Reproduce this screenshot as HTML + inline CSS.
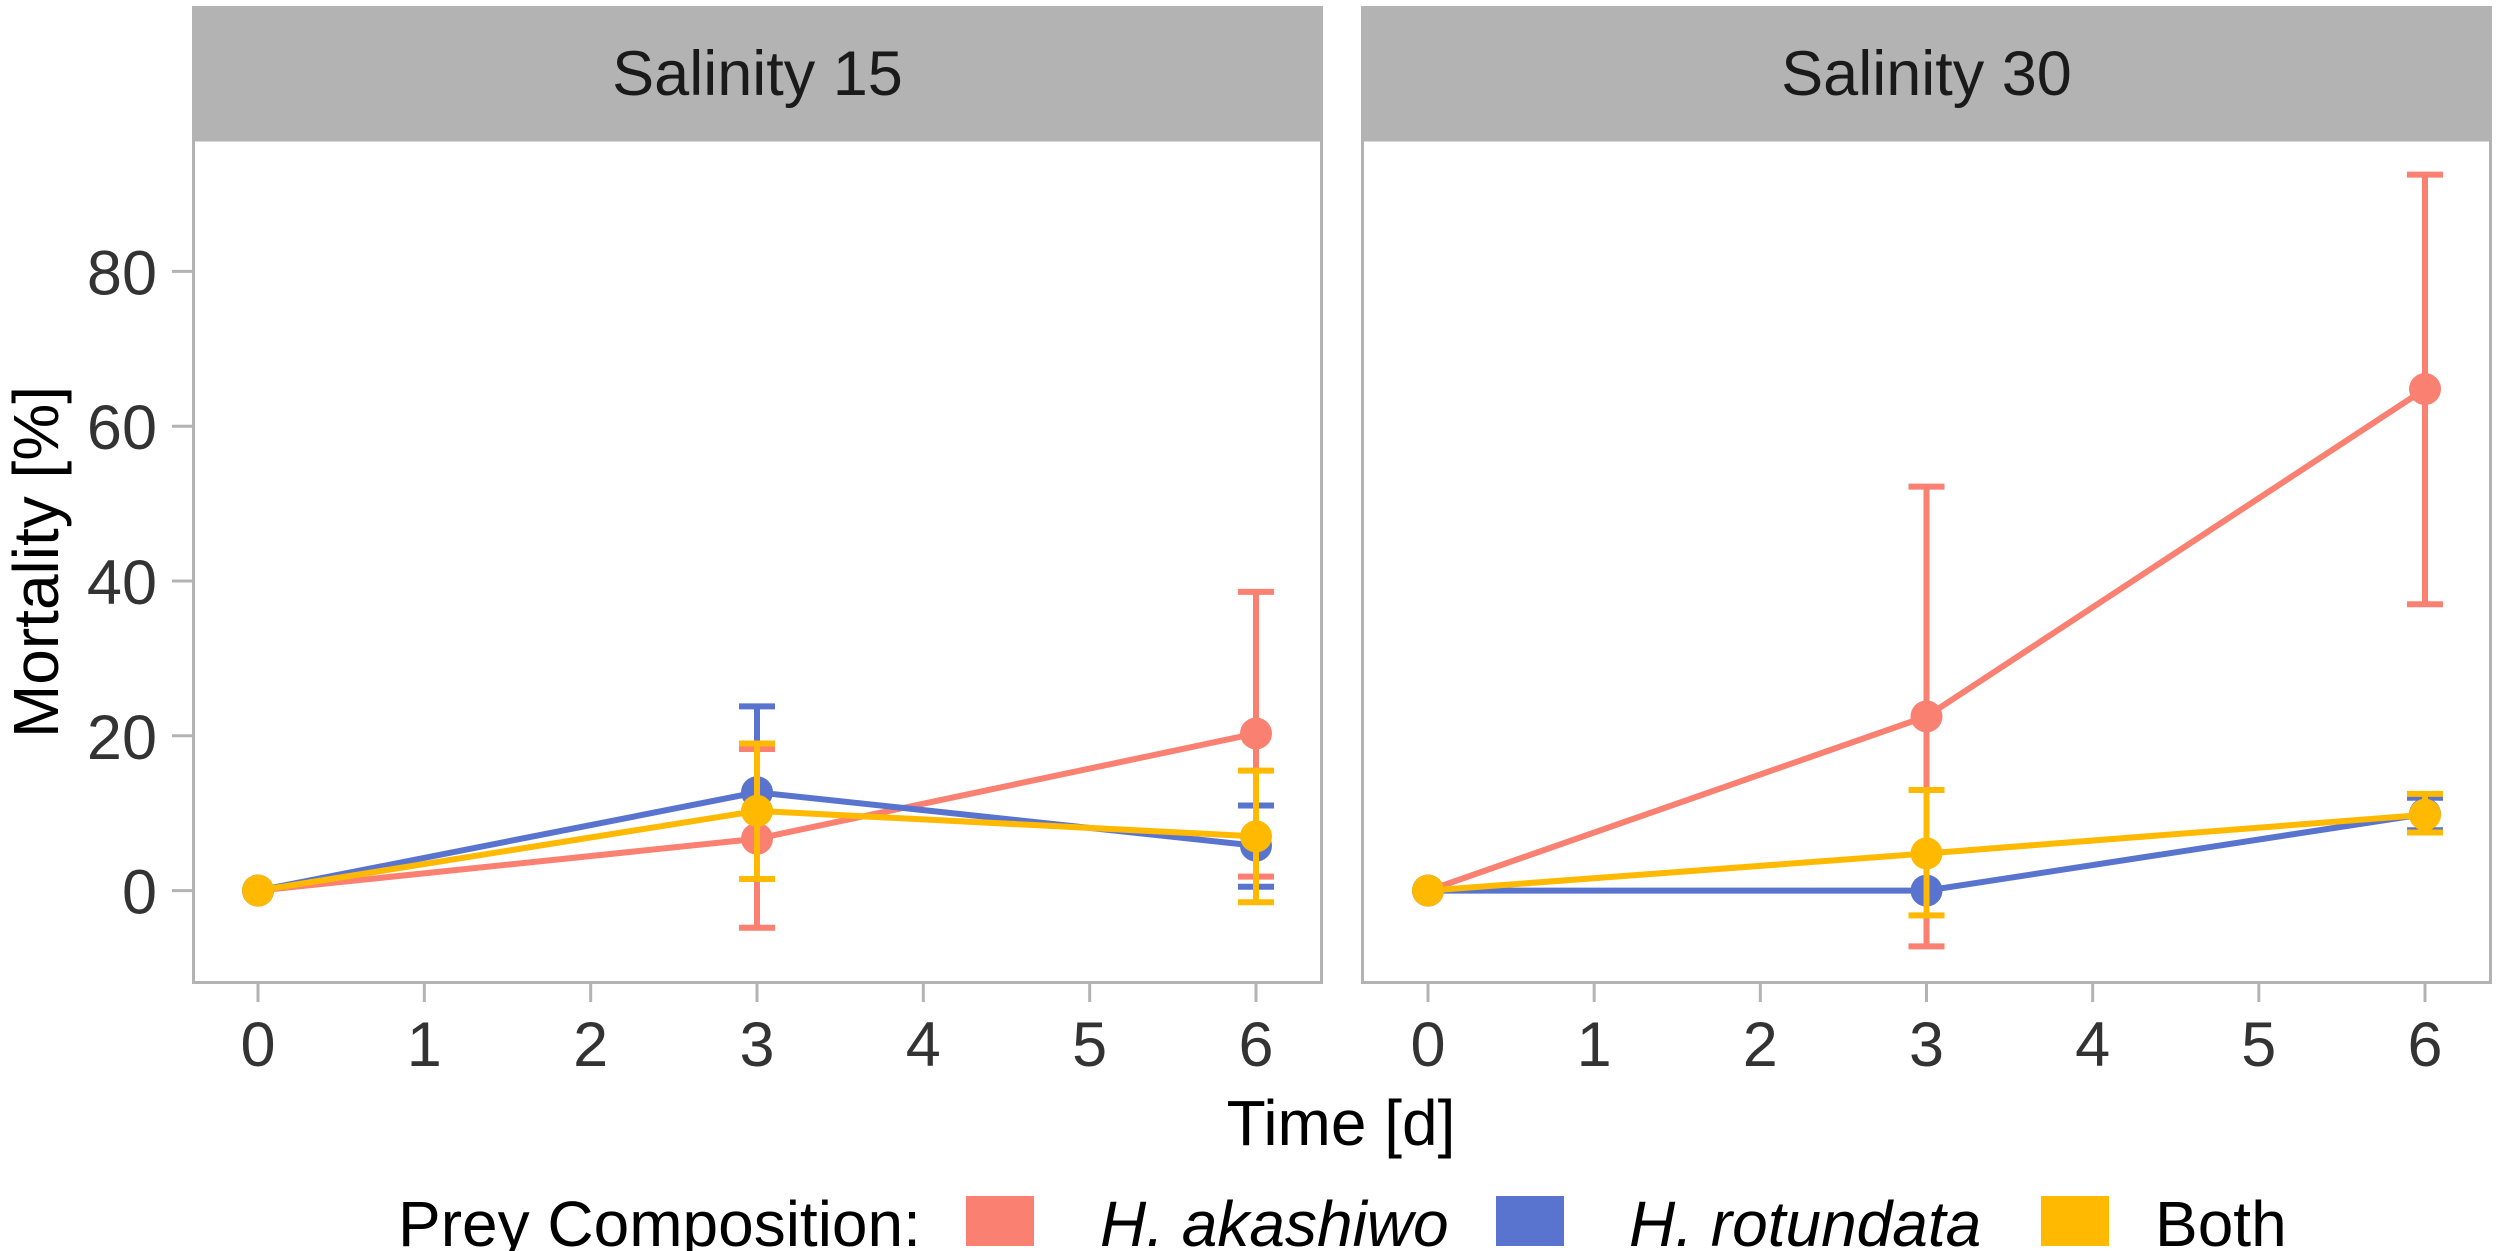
<!DOCTYPE html>
<html><head><meta charset="utf-8"><style>
body{margin:0;background:#fff}
svg{display:block}
text{font-family:"Liberation Sans",Arial,sans-serif}
</style></head><body>
<div style="position:relative;width:2500px;height:1251px">
<svg id="chart" width="2500" height="1251" viewBox="0 0 2500 1251" style="position:absolute;left:0;top:0"></svg>
<svg width="2500" height="1251" style="position:absolute;left:0;top:0">
<text x="1341" y="1145" font-size="64" text-anchor="middle" fill="#000">Time [d]</text>
<text transform="translate(58,562) rotate(-90)" font-size="64" text-anchor="middle" fill="#000">Mortality [%]</text>
<g font-size="64" fill="#000">
<text x="398" y="1246">Prey Composition:</text>
<rect x="966" y="1196" width="68" height="50" fill="#FA8072"/>
<text x="1100" y="1246" font-style="italic">H. akashiwo</text>
<rect x="1496" y="1196" width="68" height="50" fill="#5874CF"/>
<text x="1629" y="1246" font-style="italic">H. rotundata</text>
<rect x="2041" y="1196" width="68" height="50" fill="#FFB900"/>
<text x="2155" y="1246">Both</text>
</g>
</svg>
</div>
<script>
const days = [0, 3, 6];
const xTicks = [0, 1, 2, 3, 4, 5, 6];
const yTicks = [0, 20, 40, 60, 80];
const panelTitles = ["Salinity 15", "Salinity 30"];
const seriesNames = ["H. akashiwo", "H. rotundata", "Both"];
const seriesColors = ["#FA8072", "#5874CF", "#FFB900"];
// Salinity 15
const s15Akashiwo = [0, 6.7, 20.3];
const s15AkashiwoLo = [0, -4.8, 1.8];
const s15AkashiwoHi = [0, 18.3, 38.6];
const s15Rotundata = [0, 12.7, 5.8];
const s15RotundataLo = [0, 1.5, 0.5];
const s15RotundataHi = [0, 23.8, 11];
const s15Both = [0, 10.3, 7.0];
const s15BothLo = [0, 1.5, -1.5];
const s15BothHi = [0, 19.0, 15.5];
// Salinity 30
const s30Akashiwo = [0, 22.5, 64.8];
const s30AkashiwoLo = [0, -7.2, 37.0];
const s30AkashiwoHi = [0, 52.2, 92.5];
const s30Rotundata = [0, 0, 9.9];
const s30RotundataLo = [0, 0, 7.8];
const s30RotundataHi = [0, 0, 12.0];
const s30Both = [0, 4.8, 9.8];
const s30BothLo = [0, -3.2, 7.5];
const s30BothHi = [0, 13.0, 12.5];

const panels = [
  {left:192,right:1323,x0:258,x6:1256,series:[[s15Akashiwo,s15AkashiwoLo,s15AkashiwoHi],[s15Rotundata,s15RotundataLo,s15RotundataHi],[s15Both,s15BothLo,s15BothHi]]},
  {left:1361,right:2492,x0:1428,x6:2425,series:[[s30Akashiwo,s30AkashiwoLo,s30AkashiwoHi],[s30Rotundata,s30RotundataLo,s30RotundataHi],[s30Both,s30BothLo,s30BothHi]]}
];
const plotTop=140, plotBottom=984, stripTop=6;
const yScale = v => 890.6 - v*7.74;
const svgEl = document.getElementById('chart');
const NS = "http://www.w3.org/2000/svg";
function mk(tag, attrs, parent){const e=document.createElementNS(NS,tag);for(const k in attrs)e.setAttribute(k,attrs[k]);(parent||svgEl).appendChild(e);return e;}

panels.forEach((p,pi)=>{
  const x = v => p.x0 + v*(p.x6-p.x0)/6;
  const g = mk('g',{});
  
  
  const strip = mk('rect',{x:p.left,y:stripTop,width:p.right-p.left,height:plotTop-stripTop,fill:'#B3B3B3'},g);
  
  
  const st = mk('text',{x:(p.left+p.right)/2,y:95,'font-size':63,'text-anchor':'middle',fill:'#1a1a1a'},g);
  st.textContent = panelTitles[pi];
  
  
  const bg = mk('rect',{x:p.left+1.5,y:plotTop,width:p.right-p.left-3,height:plotBottom-plotTop-1.5,fill:'#fff',stroke:'#B3B3B3','stroke-width':3},g);
  
  
  xTicks.forEach(t=>{
    const tk = mk('line',{x1:x(t),x2:x(t),y1:plotBottom,y2:plotBottom+18,stroke:'#B3B3B3','stroke-width':3},g);
    
    
    const tl = mk('text',{x:x(t),y:1066,'font-size':63,'text-anchor':'middle',fill:'#333333'},g);
    tl.textContent = t;
    
    
  });
  if(pi===0){
    yTicks.forEach(t=>{
      const tk = mk('line',{x1:p.left-20,x2:p.left,y1:yScale(t),y2:yScale(t),stroke:'#B3B3B3','stroke-width':3},g);
      
      
      const tl = mk('text',{x:p.left-35,y:yScale(t)+23,'font-size':63,'text-anchor':'end',fill:'#333333'},g);
      tl.textContent = t;
      
      
    });
  }
  p.series.forEach((s,si)=>{
    const vals=s[0], lo=s[1], hi=s[2], c=seriesColors[si];
    const sg = mk('g',{},g);
    
    
    days.forEach((d,i)=>{
      if(hi[i]===lo[i]) return;
      const eb = mk('path',{d:`M${x(d)-18},${yScale(hi[i])}H${x(d)+18}M${x(d)},${yScale(hi[i])}V${yScale(lo[i])}M${x(d)-18},${yScale(lo[i])}H${x(d)+18}`,stroke:c,'stroke-width':6,fill:'none'},sg);
      
      
    });
    const ln = mk('polyline',{points:days.map((d,i)=>x(d)+','+yScale(vals[i])).join(' '),stroke:c,'stroke-width':6,fill:'none'},sg);
    
    
    days.forEach((d,i)=>{
      const pt = mk('circle',{cx:x(d),cy:yScale(vals[i]),r:16,fill:c},sg);
      
      
    });
  });
});
</script>
</body></html>
